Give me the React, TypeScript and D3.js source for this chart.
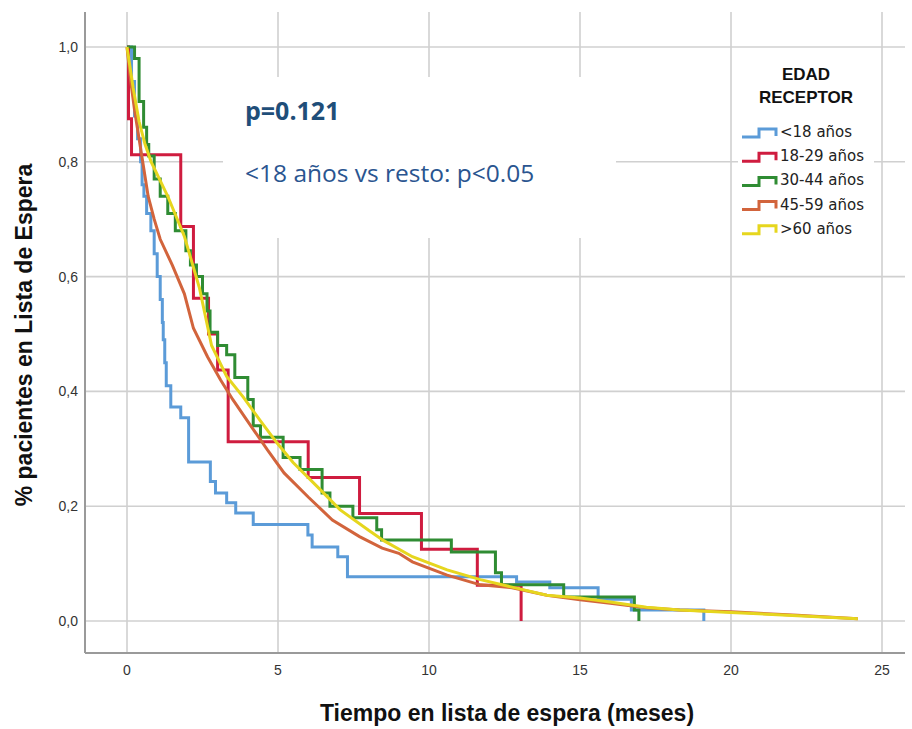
import React from "react";
import * as d3 from "d3";

const W = 912;
const H = 729;

// Tick values
const xTicks = [0, 5, 10, 15, 20, 25];
const yTicks = [0, 0.2, 0.4, 0.6, 0.8, 1.0];

// Series (time in months, proportion remaining on waiting list)
const blueT = [0, 0.15, 0.25, 0.35, 0.45, 0.5, 0.56, 0.65, 0.79, 0.9, 1.0, 1.1, 1.17, 1.2, 1.25, 1.3, 1.45, 1.78, 2.04, 2.76, 2.93, 3.3, 3.6, 4.18, 5.99, 6.13, 6.98, 7.3, 12.9, 14.0, 15.6, 16.7, 19.1];
const blueS = [1, 0.94, 0.88, 0.84, 0.8, 0.76, 0.74, 0.71, 0.68, 0.64, 0.6, 0.56, 0.52, 0.49, 0.45, 0.41, 0.373, 0.354, 0.277, 0.243, 0.223, 0.206, 0.188, 0.168, 0.15, 0.129, 0.112, 0.077, 0.068, 0.058, 0.038, 0.019, 0];

const redT = [0, 0.05, 0.15, 1.78, 2.2, 2.7, 3.0, 3.35, 6.0, 7.7, 9.75, 11.6, 13.05];
const redS = [1, 0.875, 0.8125, 0.6875, 0.5625, 0.5, 0.4375, 0.3125, 0.25, 0.1875, 0.125, 0.0625, 0];

const greenT = [0, 0.25, 0.4, 0.55, 0.65, 0.72, 0.9, 1.1, 1.35, 1.6, 1.95, 2.1, 2.3, 2.5, 2.65, 2.75, 3.0, 3.3, 3.57, 4.0, 4.18, 4.42, 5.17, 5.73, 6.46, 6.72, 7.48, 8.27, 8.43, 10.74, 12.2, 12.4, 14.46, 16.8, 16.95];
const greenS = [1, 0.98, 0.905, 0.86, 0.83, 0.81, 0.77, 0.74, 0.71, 0.68, 0.645, 0.62, 0.6, 0.57, 0.54, 0.503, 0.48, 0.464, 0.424, 0.386, 0.34, 0.32, 0.285, 0.264, 0.223, 0.2, 0.18, 0.159, 0.141, 0.12, 0.084, 0.063, 0.042, 0.019, 0];

const orangeT = [0, 0.1, 0.25, 0.4, 0.55, 0.7, 0.9, 1.1, 1.5, 1.9, 2.2, 2.67, 3.1, 3.5, 4.1, 4.65, 5.2, 6.0, 6.8, 7.7, 8.45, 9.0, 9.45, 10.6, 11.7, 12.75, 13.9, 15.0, 16.0, 17.2, 18.3, 20.0, 22.2, 24.2];
const orangeS = [1, 0.95, 0.89, 0.84, 0.79, 0.74, 0.7, 0.665, 0.62, 0.57, 0.51, 0.46, 0.42, 0.386, 0.34, 0.298, 0.258, 0.216, 0.176, 0.147, 0.127, 0.118, 0.103, 0.08, 0.063, 0.058, 0.045, 0.037, 0.031, 0.023, 0.019, 0.016, 0.01, 0.004];

const yellowT = [0, 0.2, 0.4, 0.6, 0.8, 1.35, 1.9, 2.4, 2.6, 2.8, 3.3, 3.85, 4.4, 4.97, 5.5, 6.3, 7.05, 8.0, 8.5, 9.45, 10.6, 11.7, 12.75, 13.9, 15.0, 16.0, 17.2, 18.3, 20.0, 22.2, 24.2];
const yellowS = [1, 0.93, 0.87, 0.83, 0.8, 0.74, 0.67, 0.58, 0.53, 0.48, 0.426, 0.39, 0.35, 0.31, 0.276, 0.234, 0.194, 0.158, 0.14, 0.112, 0.089, 0.072, 0.059, 0.045, 0.04, 0.033, 0.024, 0.019, 0.015, 0.009, 0.004];

const legendLabels = ["<18 años", "18-29 años", "30-44 años", "45-59 años", ">60 años"];
const colors = ["#5b9bd8", "#cf1c3f", "#2f8c33", "#d2643c", "#e6d61e"];
const seriesT = [blueT, redT, greenT, orangeT, yellowT];
const seriesS = [blueS, redS, greenS, orangeS, yellowS];
const smooth = [false, false, false, true, true];

const x = d3.scaleLinear().domain([0, 25]).range([127, 882]);
const y = d3.scaleLinear().domain([0, 1]).range([621, 47]);

const plotLeft = 85;
const plotRight = 905;
const plotTop = 12;
const plotBottom = 653;

const locale = d3.formatLocale({ decimal: ",", thousands: ".", grouping: [3], currency: ["", "€"] });
const fmtY = locale.format(".1f");

export default function App() {
  const lines = seriesT.map((ts, i) => {
    const pts: [number, number][] = ts.map((t, j) => [t, seriesS[i][j]]);
    const gen = d3
      .line<[number, number]>()
      .x((d) => x(d[0]))
      .y((d) => y(d[1]))
      .curve(smooth[i] ? d3.curveLinear : d3.curveStepAfter);
    return gen(pts) || "";
  });

  const gridColor = "#d0d0d0";

  return (
    <svg width={W} height={H} style={{ display: "block", position: "absolute", left: 0, top: 0, background: "#fff" }}>
      <rect x={0} y={0} width={W} height={H} fill="#fff" />
      {/* grid */}
      {yTicks.map((v) => (
        <line key={"gy" + v} x1={plotLeft} x2={plotRight} y1={y(v)} y2={y(v)} stroke={gridColor} strokeWidth={1.6} />
      ))}
      {xTicks.map((v) => (
        <line key={"gx" + v} x1={x(v)} x2={x(v)} y1={plotTop} y2={plotBottom} stroke={gridColor} strokeWidth={1.6} />
      ))}
      {/* white annotation box */}
      <rect x={223} y={77} width={393} height={161} fill="#fff" />
      {/* legend background */}
      <rect x={738} y={118} width={136} height={120} fill="#fff" />
      {/* axes */}
      <line x1={plotLeft} x2={plotLeft} y1={plotTop} y2={plotBottom} stroke="#9a9a9a" strokeWidth={2} />
      <line x1={plotLeft} x2={plotRight} y1={plotBottom} y2={plotBottom} stroke="#9a9a9a" strokeWidth={2} />
      {/* curves */}
      {lines.map((d, i) => (
        <path key={"c" + i} d={d} fill="none" stroke={colors[i]} strokeWidth={3} strokeLinejoin="miter" />
      ))}
      {/* y tick labels */}
      {yTicks.map((v) => (
        <text key={"ty" + v} x={78} y={y(v) + 5} textAnchor="end" fontFamily="Liberation Sans, Arial, sans-serif" fontSize={14} fill="#333">
          {fmtY(v)}
        </text>
      ))}
      {/* x tick labels */}
      {xTicks.map((v) => (
        <text key={"tx" + v} x={x(v)} y={675} textAnchor="middle" fontFamily="Liberation Sans, Arial, sans-serif" fontSize={14} fill="#333">
          {v}
        </text>
      ))}
      {/* axis titles */}
      <text x={507} y={721} textAnchor="middle" fontFamily="Liberation Sans, Arial, sans-serif" fontWeight="bold" fontSize={23} fill="#111">
        Tiempo en lista de espera (meses)
      </text>
      <text transform={`translate(32,335) rotate(-90)`} textAnchor="middle" fontFamily="Liberation Sans, Arial, sans-serif" fontWeight="bold" fontSize={23} fill="#111">
        % pacientes en Lista de Espera
      </text>
      {/* annotation */}
      <text x={245} y={120} fontFamily="Open Sans, sans-serif" fontWeight="bold" fontSize={25} fill="#1f4e79">
        p=0.121
      </text>
      <text x={245} y={182} fontFamily="Open Sans, sans-serif" fontSize={24.5} fill="#2a5590">
        {"<18 años vs resto: p<0.05"}
      </text>
      {/* legend */}
      <text x={806} y={80} textAnchor="middle" fontFamily="Liberation Sans, Arial, sans-serif" fontWeight="bold" fontSize={17} fill="#111">
        EDAD
      </text>
      <text x={806} y={103} textAnchor="middle" fontFamily="Liberation Sans, Arial, sans-serif" fontWeight="bold" fontSize={17} fill="#111">
        RECEPTOR
      </text>
      {legendLabels.map((lab, i) => {
        const cy = 132 + i * 24.2;
        return (
          <g key={"lg" + i}>
            <path
              d={`M742,${cy + 5} H759 V${cy - 3} H776 V${cy + 4}`}
              fill="none"
              stroke={colors[i]}
              strokeWidth={3}
            />
            <text x={780} y={cy + 5} fontFamily="DejaVu Sans, Verdana, sans-serif" fontSize={15} fill="#222">
              {lab}
            </text>
          </g>
        );
      })}
    </svg>
  );
}
